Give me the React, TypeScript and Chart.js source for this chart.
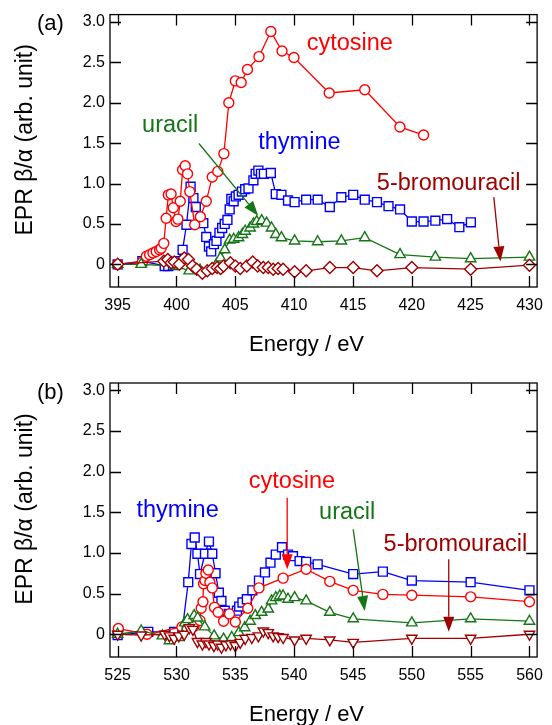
import React, { useEffect, useRef } from "react";
import { Chart, registerables } from "chart.js";

Chart.register(...registerables);

const FONT = "'Liberation Sans', Arial, Helvetica, sans-serif";
const RED = "#ff0000";
const BLUE = "#0000ff";
const GREEN = "#167516";
const DARKRED = "#a00000";

// ---------- tick values ----------
const yTicks = [0, 0.5, 1, 1.5, 2, 2.5, 3];
const xTicksA = [395, 400, 405, 410, 415, 420, 425, 430];
const xTicksB = [525, 530, 535, 540, 545, 550, 555, 560];

// ---------- panel (a): N K-edge ----------
const cytAE = [395, 397.1, 397.44, 397.72, 398.0, 398.28, 398.56, 398.7, 398.92, 399.12, 399.31, 399.54, 399.73, 399.96, 400.12, 400.32, 400.52, 400.74, 400.94, 401.13, 401.55, 402.03, 402.53, 403.04, 403.51, 404.03, 404.45, 405.0, 405.5, 406.03, 407.01, 408.02, 408.97, 409.98, 412.98, 416.0, 418.99, 421.0];
const cytAV = [0, 0.03, 0.1, 0.12, 0.14, 0.16, 0.18, 0.2, 0.26, 0.57, 0.86, 0.87, 0.7, 0.53, 0.56, 0.78, 1.17, 1.22, 1.12, 0.9, 0.49, 0.59, 0.78, 1.08, 1.15, 1.37, 2.0, 2.27, 2.25, 2.41, 2.57, 2.88, 2.64, 2.56, 2.12, 2.16, 1.7, 1.6];

const thyAE = [395, 397.1, 399.0, 399.3, 399.7, 400.1, 400.52, 400.85, 401.2, 401.44, 401.64, 402.28, 402.53, 402.76, 402.95, 403.18, 403.4, 403.65, 403.88, 404.1, 404.33, 404.52, 404.66, 404.86, 405.05, 405.28, 405.56, 405.84, 406.12, 406.54, 406.73, 406.96, 407.18, 407.43, 408.02, 408.44, 408.92, 409.48, 410.04, 411.02, 412.0, 413.03, 414.01, 415.02, 416.0, 417.04, 418.02, 419.0, 420.0, 421.0, 422.0, 423.0, 424.04, 425.02];
const thyAV = [0, 0.04, -0.02, -0.02, -0.01, 0.04, 0.18, 0.49, 0.96, 0.82, 0.71, 0.51, 0.34, 0.22, 0.16, 0.25, 0.29, 0.39, 0.45, 0.5, 0.55, 0.68, 0.81, 0.78, 0.84, 0.86, 0.9, 0.93, 0.94, 1.04, 1.12, 1.16, 1.12, 1.12, 1.13, 0.87, 0.86, 0.79, 0.77, 0.8, 0.8, 0.71, 0.83, 0.86, 0.8, 0.77, 0.72, 0.68, 0.53, 0.53, 0.54, 0.56, 0.46, 0.52];

const uraAE = [395, 397, 399.9, 401.08, 402.0, 403.0, 403.4, 403.74, 404.1, 404.52, 404.86, 405.28, 405.6, 405.84, 406.26, 406.54, 406.82, 407.24, 407.66, 408.08, 408.44, 408.92, 410.04, 412.0, 414.01, 416.0, 419.0, 422.0, 425.0, 430.0];
const uraAV = [0, 0, -0.02, -0.08, -0.07, -0.06, 0, 0.08, 0.18, 0.3, 0.31, 0.33, 0.37, 0.41, 0.45, 0.5, 0.53, 0.54, 0.51, 0.45, 0.37, 0.33, 0.29, 0.28, 0.29, 0.33, 0.12, 0.09, 0.07, 0.09];

const broAE = [395, 398.92, 399.26, 399.55, 399.82, 400.24, 400.66, 401.02, 401.36, 401.72, 402.2, 402.62, 403.04, 403.46, 403.75, 404.0, 404.58, 405.0, 405.42, 405.98, 406.48, 406.9, 407.38, 407.8, 408.22, 408.64, 409.06, 410.04, 411.02, 413.03, 415.02, 417.04, 420.0, 425.0, 430.0];
const broAV = [0, 0.04, 0.06, 0.02, 0.03, 0, 0.08, 0.06, -0.02, -0.06, -0.11, -0.08, -0.05, -0.04, -0.05, -0.02, 0.02, -0.02, -0.05, -0.02, 0.03, -0.02, -0.04, -0.04, -0.06, -0.05, -0.06, -0.09, -0.08, -0.04, -0.04, -0.08, -0.04, -0.06, -0.01];

// ---------- panel (b): O K-edge ----------
const thyBE = [525, 527.6, 529.8, 530.5, 531.0, 531.27, 531.55, 531.78, 532.0, 532.42, 532.76, 533.04, 533.32, 533.6, 533.82, 534.1, 534.44, 535.14, 535.33, 535.61, 535.98, 536.45, 537.01, 537.52, 537.99, 538.44, 538.97, 539.48, 539.9, 540.46, 541.02, 542.0, 545.02, 547.54, 550.0, 555.0, 560.0];
const thyBV = [-0.01, 0.03, 0.03, 0.06, 0.64, 1.11, 1.19, 0.99, 0.74, 0.99, 1.14, 0.99, 0.75, 0.51, 0.41, 0.29, 0.25, 0.29, 0.34, 0.39, 0.43, 0.54, 0.66, 0.76, 0.88, 0.98, 1.07, 0.98, 0.96, 0.9, 0.89, 0.86, 0.74, 0.77, 0.66, 0.64, 0.54];

const cytBE = [525.06, 527.5, 530.46, 530.9, 531.5, 532.0, 532.1, 532.25, 532.3, 532.42, 532.5, 532.7, 532.84, 533.04, 533.23, 533.54, 534.0, 534.5, 535.0, 536.06, 537.01, 539.06, 541.02, 543.03, 545.02, 547.54, 550.0, 555.0, 560.0];
const cytBV = [0.07, 0, 0.09, 0.08, 0.1, 0.17, 0.32, 0.4, 0.62, 0.66, 0.75, 0.79, 0.64, 0.57, 0.33, 0.27, 0.16, 0.25, 0.15, 0.32, 0.57, 0.69, 0.8, 0.65, 0.54, 0.49, 0.48, 0.46, 0.4];

const uraBE = [525, 527.0, 528.8, 529.4, 530.2, 530.7, 530.94, 531.5, 531.8, 532.4, 533.2, 534.0, 534.7, 535.3, 535.8, 536.26, 536.7, 537.24, 537.8, 538.08, 538.44, 538.78, 539.06, 539.48, 540.04, 541.02, 543.03, 545.02, 550.0, 555.0, 560.0];
const uraBV = [0, 0.04, -0.02, -0.08, -0.04, 0.14, 0.18, 0.23, 0.2, 0.09, -0.02, -0.06, -0.04, 0.02, 0.08, 0.16, 0.23, 0.27, 0.31, 0.41, 0.45, 0.47, 0.47, 0.43, 0.45, 0.41, 0.27, 0.19, 0.14, 0.19, 0.16];

const broBE = [525, 527, 529, 529.4, 529.8, 530.2, 530.66, 531.08, 531.4, 531.78, 532.2, 532.5, 532.76, 533.18, 533.5, 533.82, 534.2, 534.58, 535.0, 535.42, 535.84, 536.4, 536.96, 537.38, 537.8, 538.22, 538.64, 539.06, 540.04, 541.02, 543.03, 545.02, 550.0, 555.0, 560.0];
const broBV = [0, -0.01, 0, -0.02, -0.05, -0.02, 0, 0.08, 0.06, -0.09, -0.12, -0.09, -0.12, -0.14, -0.12, -0.16, -0.13, -0.12, -0.14, -0.1, -0.05, -0.04, -0.02, 0.04, 0.02, -0.02, -0.03, -0.04, -0.07, -0.05, -0.07, -0.1, -0.05, -0.05, 0];

const pts = (xs: number[], ys: number[]) => xs.map((x, i) => ({ x, y: ys[i] }));

type Label = { text: string; x: number; y: number; color: string };
type Arrow = { x1: number; y1: number; x2: number; y2: number; color: string };

const labelsA: Label[] = [
  { text: "cytosine", x: 411.07, y: 2.654, color: RED },
  { text: "uracil", x: 397.08, y: 1.638, color: GREEN },
  { text: "thymine", x: 406.95, y: 1.425, color: BLUE },
  { text: "5-bromouracil", x: 417.03, y: 0.921, color: DARKRED },
];
const arrowsA: Arrow[] = [
  { x1: 401.91, y1: 1.495, x2: 406.95, y2: 0.602, color: GREEN },
  { x1: 426.97, y1: 0.832, x2: 427.53, y2: 0.037, color: DARKRED },
];
const labelsB: Label[] = [
  { text: "thymine", x: 526.6, y: 1.441, color: BLUE },
  { text: "cytosine", x: 536.15, y: 1.801, color: RED },
  { text: "uracil", x: 542.12, y: 1.413, color: GREEN },
  { text: "5-bromouracil", x: 547.6, y: 1.023, color: DARKRED },
];
const arrowsB: Arrow[] = [
  { x1: 539.41, y1: 1.678, x2: 539.41, y2: 0.799, color: RED },
  { x1: 545.02, y1: 1.29, x2: 546.0, y2: 0.286, color: GREEN },
  { x1: 553.14, y1: 0.921, x2: 553.14, y2: 0.032, color: DARKRED },
];

const decor = {
  id: "decor",
  afterDraw(chart: any, _args: any, opts: any) {
    const { ctx, chartArea: a } = chart;
    const xs = chart.scales.x;
    const ys = chart.scales.y;
    ctx.save();
    // frame
    ctx.strokeStyle = "#000";
    ctx.lineWidth = 1.3;
    ctx.strokeRect(a.left, a.top, a.right - a.left, a.bottom - a.top);
    // inward ticks
    const TL = 11;
    ctx.beginPath();
    for (const v of opts.xTicks as number[]) {
      const px = Math.round(xs.getPixelForValue(v)) + 0.5;
      ctx.moveTo(px, a.bottom);
      ctx.lineTo(px, a.bottom - TL);
      ctx.moveTo(px, a.top);
      ctx.lineTo(px, a.top + TL);
    }
    for (const v of yTicks) {
      const py = Math.round(ys.getPixelForValue(v)) + 0.5;
      ctx.moveTo(a.left, py);
      ctx.lineTo(a.left + TL, py);
      ctx.moveTo(a.right, py);
      ctx.lineTo(a.right - TL, py);
    }
    ctx.stroke();

    // arrows
    for (const ar of opts.arrows as Arrow[]) {
      const x1 = xs.getPixelForValue(ar.x1);
      const y1 = ys.getPixelForValue(ar.y1);
      const x2 = xs.getPixelForValue(ar.x2);
      const y2 = ys.getPixelForValue(ar.y2);
      const ang = Math.atan2(y2 - y1, x2 - x1);
      const HL = 15;
      const HW = 5.5;
      const bx = x2 - HL * Math.cos(ang);
      const by = y2 - HL * Math.sin(ang);
      ctx.strokeStyle = ar.color;
      ctx.fillStyle = ar.color;
      ctx.lineWidth = 1.3;
      ctx.beginPath();
      ctx.moveTo(x1, y1);
      ctx.lineTo(bx, by);
      ctx.stroke();
      ctx.beginPath();
      ctx.moveTo(x2, y2);
      ctx.lineTo(bx + HW * Math.sin(ang), by - HW * Math.cos(ang));
      ctx.lineTo(bx - HW * Math.sin(ang), by + HW * Math.cos(ang));
      ctx.closePath();
      ctx.fill();
    }

    // annotation labels
    ctx.font = `23.5px ${FONT}`;
    ctx.textAlign = "left";
    ctx.textBaseline = "alphabetic";
    for (const lb of opts.labels as Label[]) {
      ctx.fillStyle = lb.color;
      ctx.fillText(lb.text, xs.getPixelForValue(lb.x), ys.getPixelForValue(lb.y));
    }

    // panel letter
    ctx.fillStyle = "#000";
    ctx.font = `22px ${FONT}`;
    ctx.fillText(opts.panel, 37, a.top + 15.5);

    // x title
    ctx.textAlign = "center";
    ctx.font = `22px ${FONT}`;
    ctx.fillText("Energy / eV", (a.left + a.right) / 2 - 17, a.bottom + 63.5);

    // y title
    ctx.save();
    ctx.translate(31.5, (a.top + a.bottom) / 2 - 11);
    ctx.rotate(-Math.PI / 2);
    ctx.font = `23px ${FONT}`;
    ctx.fillText("EPR \u03b2/\u03b1 (arb. unit)", 0, 0);
    ctx.restore();

    ctx.restore();
  },
};

function ds(label: string, data: any[], color: string, style: string, radius: number, rotation = 0) {
  return {
    label,
    data,
    borderColor: color,
    backgroundColor: "#ffffff",
    pointBackgroundColor: "#ffffff",
    pointBorderColor: color,
    pointStyle: style,
    pointRotation: rotation,
    pointRadius: radius,
    pointBorderWidth: 1.4,
    borderWidth: 1.3,
    tension: 0,
    fill: false,
  };
}

function makeConfig(p: any): any {
  return {
    type: "line",
    data: { datasets: p.datasets },
    options: {
      animation: false,
      responsive: false,
      events: [],
      layout: { padding: { top: p.top, right: 10, left: 0, bottom: 0 } },
      plugins: { legend: { display: false }, tooltip: { enabled: false }, decor: p.decor },
      scales: {
        x: {
          type: "linear",
          min: p.xmin,
          max: p.xmax,
          grid: { display: false, drawTicks: false },
          border: { display: false },
          afterFit: (s: any) => {
            s.height = p.xHeight;
          },
          afterBuildTicks: (s: any) => {
            s.ticks = p.xTicks.map((v: number) => ({ value: v }));
          },
          ticks: {
            padding: 9,
            color: "#000",
            font: { family: FONT, size: 16 },
            maxRotation: 0,
            callback: (v: number) => String(v),
          },
        },
        y: {
          type: "linear",
          min: -0.28,
          max: 3.09,
          grid: { display: false, drawTicks: false },
          border: { display: false },
          afterFit: (s: any) => {
            s.width = 110;
          },
          afterBuildTicks: (s: any) => {
            s.ticks = yTicks.map((v) => ({ value: v }));
          },
          ticks: {
            padding: 5,
            color: "#000",
            font: { family: FONT, size: 16 },
            callback: (v: number) => (v === 0 ? "0" : v.toFixed(1)),
          },
        },
      },
    },
    plugins: [decor],
  };
}

export default function App() {
  const refA = useRef<HTMLCanvasElement>(null);
  const refB = useRef<HTMLCanvasElement>(null);

  useEffect(() => {
    const chartA = new Chart(
      refA.current as HTMLCanvasElement,
      makeConfig({
        top: 13,
        xHeight: 75,
        xmin: 394.35,
        xmax: 430.65,
        xTicks: xTicksA,
        decor: { xTicks: xTicksA, labels: labelsA, arrows: arrowsA, panel: "(a)" },
        datasets: [
          ds("5-bromouracil", pts(broAE, broAV), DARKRED, "rectRot", 6),
          ds("uracil", pts(uraAE, uraAV), GREEN, "triangle", 6),
          ds("cytosine", pts(cytAE, cytAV), RED, "circle", 5),
          ds("thymine", pts(thyAE, thyAV), BLUE, "rect", 6.3),
        ],
      })
    );
    const chartB = new Chart(
      refB.current as HTMLCanvasElement,
      makeConfig({
        top: 21,
        xHeight: 68,
        xmin: 524.35,
        xmax: 560.65,
        xTicks: xTicksB,
        decor: { xTicks: xTicksB, labels: labelsB, arrows: arrowsB, panel: "(b)" },
        datasets: [
          ds("5-bromouracil", pts(broBE, broBV), DARKRED, "triangle", 6, 180),
          ds("uracil", pts(uraBE, uraBV), GREEN, "triangle", 6),
          ds("cytosine", pts(cytBE, cytBV), RED, "circle", 5),
          ds("thymine", pts(thyBE, thyBV), BLUE, "rect", 6.3),
        ],
      })
    );
    return () => {
      chartA.destroy();
      chartB.destroy();
    };
  }, []);

  return (
    <div style={{ position: "absolute", left: 0, top: 0, width: 552, height: 725, background: "#fff" }}>
      <canvas ref={refA} width={552} height={362} style={{ position: "absolute", left: 0, top: 0, display: "block" }} />
      <canvas ref={refB} width={552} height={363} style={{ position: "absolute", left: 0, top: 362, display: "block" }} />
    </div>
  );
}
